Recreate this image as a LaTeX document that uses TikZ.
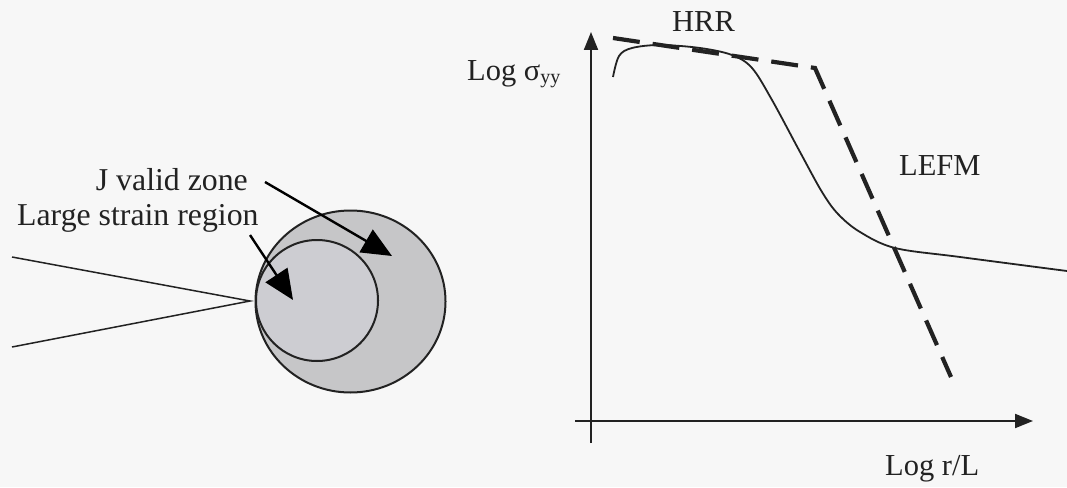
\documentclass[tikz,border=0pt]{standalone}
\usepackage{fontspec}
\setmainfont{Liberation Serif}
\usetikzlibrary{arrows.meta}
\definecolor{bg}{HTML}{F7F7F7}
\definecolor{outerg}{HTML}{C6C6C8}
\definecolor{innerg}{HTML}{CDCDD2}
\definecolor{ink}{HTML}{222222}
\tikzset{
  lbl/.style={font=\fontsize{30.5}{34}\selectfont, text=ink, inner sep=0pt},
  biglbl/.style={font=\fontsize{31.8}{35}\selectfont, text=ink, inner sep=0pt},
  ptr/.style={draw=black, line width=2.4pt, -{Triangle[length=30pt,width=26pt]}},
  thinline/.style={draw=ink, line width=1.5pt},
  ring/.style={draw=ink, line width=2pt},
  axis/.style={draw=ink, line width=2pt, -{Triangle[length=18pt,width=14pt]}},
  asym/.style={draw=ink, line width=4.2pt, dash pattern=on 27pt off 13pt},
  curve/.style={draw=ink, line width=1.8pt}
}
\begin{document}
\begin{tikzpicture}[x=1pt,y=-1pt]
\useasboundingbox (0,0) rectangle (1067,487);
\fill[bg] (0,0) rectangle (1067,487);
% crack
\coordinate (ctop) at (12,257);
\coordinate (tip) at (250,301);
\coordinate (cbot) at (12,347);
\draw[thinline] (ctop) -- (tip) -- (cbot);
% circles
\draw[ring, fill=outerg] (350.5,301.5) ellipse [x radius=95, y radius=91];
\draw[ring, fill=innerg] (317,300.5) ellipse [x radius=61, y radius=60.5];
% labels
\node[biglbl, anchor=base east] (jz) at (248,190) {J valid zone};
\node[biglbl, anchor=base west] (ls) at (17,225) {Large strain region};
\coordinate (jzs) at (265,182);
\coordinate (jze) at (392,256);
\coordinate (lss) at (250,235);
\coordinate (lse) at (293,300);
\draw[ptr] (jzs) -- (jze);
\draw[ptr] (lss) -- (lse);
% axes
\coordinate (ybot) at (591,443);
\coordinate (ytop) at (591,32);
\coordinate (xl) at (575,421);
\coordinate (xr) at (1033,421);
\draw[axis] (ybot) -- (ytop);
\draw[axis] (xl) -- (xr);
\node[lbl, anchor=base west] (ylab) at (467,80) {Log σ\raisebox{-0.28ex}{\fontsize{20}{22}\selectfont yy}};
\node[lbl, anchor=base west] (xlab) at (885,475) {Log r/L};
\node[lbl, anchor=base west] (hrr) at (672,32) {HRR};
\node[lbl, anchor=base west] (lefm) at (899,175) {LEFM};
% asymptotes
\coordinate (a0) at (613,38);
\coordinate (a1) at (815,68);
\coordinate (a2) at (951,377);
\draw[asym] (a0) -- (a1) -- (a2);
% stress curve
\draw[curve] plot[smooth, tension=0.55] coordinates {
 (613,77) (619,56) (632,48) (660,45) (700,48) (732,55) (752,68) (772,100)
 (800,152) (822,192) (838,214) (860,232) (895,248) (960,257) (1067,271)};
\end{tikzpicture}
\end{document}
